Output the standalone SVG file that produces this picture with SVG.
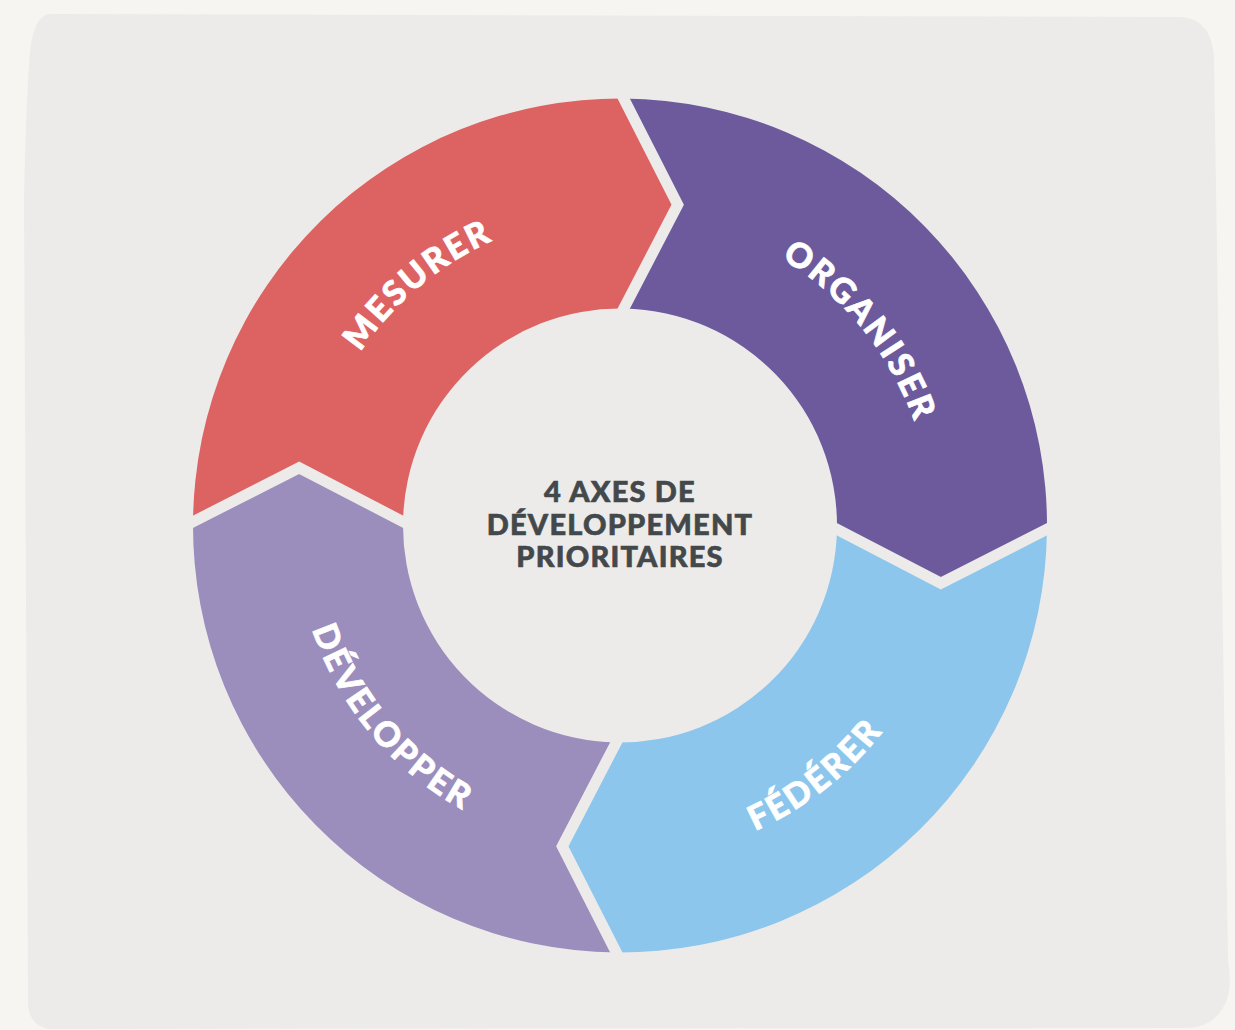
<svg xmlns="http://www.w3.org/2000/svg" xmlns:xlink="http://www.w3.org/1999/xlink" width="1235" height="1030" viewBox="0 0 1235 1030">
<style>
.lbl{font-family:Lato,"Noto Sans","DejaVu Sans",sans-serif;font-weight:900;font-size:34px;fill:#ffffff;stroke:#ffffff;stroke-width:0.7px;letter-spacing:2.5px}
.ctr{font-family:Lato,"Noto Sans","DejaVu Sans",sans-serif;font-weight:900;font-size:29px;fill:#43484b;stroke:#43484b;stroke-width:0.6px;letter-spacing:1.2px;text-anchor:middle}
.gap{fill:none;stroke:#ecebe9;stroke-width:11;stroke-linejoin:miter;stroke-miterlimit:10}
</style>
<defs>
<path id="pMes" d="M 312.74,579.68 A 312 312 0 0 1 726.71,232.32"/>
<path id="pOrg" d="M 571.19,217.34 A 312 312 0 0 1 911.28,637.31"/>
<path id="pFed" d="M 494.88,835.18 A 334 334 0 0 0 950.75,479.02"/>
<path id="pDev" d="M 314.59,414.35 A 325 325 0 0 0 676.44,845.57"/>
</defs>
<rect x="0" y="0" width="1235" height="1030" fill="#f6f5f2"/>
<path id="panel" d="M 50,14 L 1182,17 Q 1212,20 1214,58 L 1228,960 Q 1233,990 1224,1006 Q 1212,1028 1186,1028 L 52,1029 Q 30,1028 28,1004 L 24,200 Q 26,100 30,52 Q 34,15 50,14 Z" fill="#ecebe9"/>
<g id="mesurer">
<path d="M 193.02,521.77 A 427 427 0 0 1 623.73,98.52 L 677.73,204.65 L 623.79,308.53 A 217 217 0 0 0 403.03,521.71 L 299.15,467.77 Z" fill="#dd6363"/>
<text class="lbl"><textPath href="#pMes" startOffset="50%" text-anchor="middle">MESURER</textPath></text>
</g>
<g id="organiser">
<path d="M 623.73,98.52 A 427 427 0 0 1 1046.98,529.23 L 940.85,583.23 L 836.97,529.29 A 217 217 0 0 0 623.79,308.53 L 677.73,204.65 Z" fill="#6c5a9d"/>
<text class="lbl"><textPath href="#pOrg" startOffset="50%" text-anchor="middle">ORGANISER</textPath></text>
</g>
<g id="federer">
<path d="M 1046.98,529.23 A 427 427 0 0 1 616.27,952.48 L 562.27,846.35 L 616.21,742.47 A 217 217 0 0 0 836.97,529.29 L 940.85,583.23 Z" fill="#8cc6ec"/>
<text class="lbl"><textPath href="#pFed" startOffset="50%" text-anchor="middle">FÉDÉRER</textPath></text>
</g>
<g id="developper">
<path d="M 616.27,952.48 A 427 427 0 0 1 193.02,521.77 L 299.15,467.77 L 403.03,521.71 A 217 217 0 0 0 616.21,742.47 L 562.27,846.35 Z" fill="#9b8dbc"/>
<text class="lbl"><textPath href="#pDev" startOffset="50%" text-anchor="middle">DÉVELOPPER</textPath></text>
</g>
<g id="connectors">
<polyline class="gap" points="616.93,85.15 677.73,204.65 616.88,321.84"/>
<polyline class="gap" points="1060.35,522.43 940.85,583.23 823.66,522.38"/>
<polyline class="gap" points="623.07,965.85 562.27,846.35 623.12,729.16"/>
<polyline class="gap" points="179.65,528.57 299.15,467.77 416.34,528.62"/>
</g>
<g id="center">
<circle cx="620" cy="525.5" r="212" fill="#ecebe9"/>
<text class="ctr" x="620" y="502">4 AXES DE</text>
<text class="ctr" x="620" y="535">DÉVELOPPEMENT</text>
<text class="ctr" x="620" y="567">PRIORITAIRES</text>
</g>
</svg>
